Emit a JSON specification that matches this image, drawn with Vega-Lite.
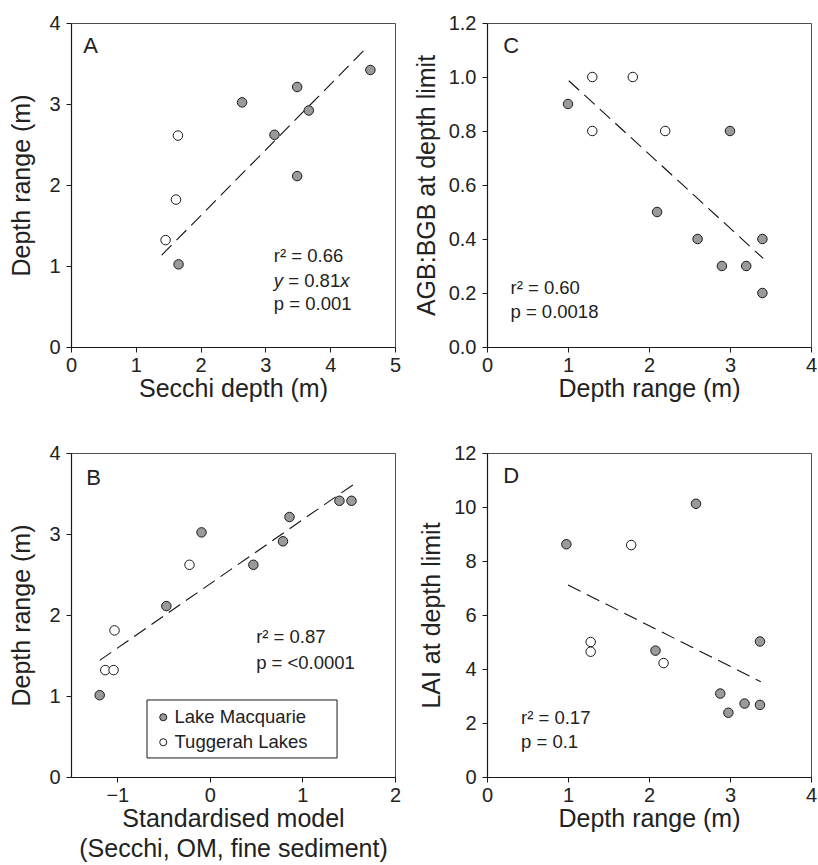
{
  "$schema": "https://vega.github.io/schema/vega-lite/v6.json",
  "background": "white",
  "padding": {"left": 9, "top": 12, "right": 5, "bottom": 5},
  "autosize": {"type": "pad"},
  "bounds": "flush",
  "columns": 2,
  "spacing": {"row": 106, "column": 92},
  "datasets": {
    "secchiSites": [
      {"lake": "Lake Macquarie", "secchi": 4.62, "depth_range": 3.42},
      {"lake": "Lake Macquarie", "secchi": 3.49, "depth_range": 3.21},
      {"lake": "Lake Macquarie", "secchi": 2.64, "depth_range": 3.02},
      {"lake": "Lake Macquarie", "secchi": 3.67, "depth_range": 2.92},
      {"lake": "Lake Macquarie", "secchi": 3.14, "depth_range": 2.62},
      {"lake": "Lake Macquarie", "secchi": 3.49, "depth_range": 2.11},
      {"lake": "Lake Macquarie", "secchi": 1.66, "depth_range": 1.02},
      {"lake": "Tuggerah Lakes", "secchi": 1.65, "depth_range": 2.61},
      {"lake": "Tuggerah Lakes", "secchi": 1.62, "depth_range": 1.82},
      {"lake": "Tuggerah Lakes", "secchi": 1.46, "depth_range": 1.32}
    ],
    "secchiFit": [
      {"secchi": 1.40, "depth_range": 1.134},
      {"secchi": 4.52, "depth_range": 3.661}
    ],
    "modelSites": [
      {"lake": "Lake Macquarie", "model_score": 1.40, "depth_range": 3.41},
      {"lake": "Lake Macquarie", "model_score": 1.53, "depth_range": 3.41},
      {"lake": "Lake Macquarie", "model_score": 0.86, "depth_range": 3.21},
      {"lake": "Lake Macquarie", "model_score": -0.09, "depth_range": 3.02},
      {"lake": "Lake Macquarie", "model_score": 0.79, "depth_range": 2.91},
      {"lake": "Lake Macquarie", "model_score": 0.47, "depth_range": 2.62},
      {"lake": "Lake Macquarie", "model_score": -0.47, "depth_range": 2.11},
      {"lake": "Lake Macquarie", "model_score": -1.19, "depth_range": 1.01},
      {"lake": "Tuggerah Lakes", "model_score": -0.22, "depth_range": 2.62},
      {"lake": "Tuggerah Lakes", "model_score": -1.03, "depth_range": 1.81},
      {"lake": "Tuggerah Lakes", "model_score": -1.13, "depth_range": 1.32},
      {"lake": "Tuggerah Lakes", "model_score": -1.04, "depth_range": 1.32}
    ],
    "modelFit": [
      {"model_score": -1.19, "depth_range": 1.44},
      {"model_score": 1.55, "depth_range": 3.61}
    ],
    "biomassSites": [
      {"lake": "Lake Macquarie", "depth_range": 1.0, "agb_bgb": 0.9},
      {"lake": "Lake Macquarie", "depth_range": 3.0, "agb_bgb": 0.8},
      {"lake": "Lake Macquarie", "depth_range": 2.1, "agb_bgb": 0.5},
      {"lake": "Lake Macquarie", "depth_range": 2.6, "agb_bgb": 0.4},
      {"lake": "Lake Macquarie", "depth_range": 2.9, "agb_bgb": 0.3},
      {"lake": "Lake Macquarie", "depth_range": 3.2, "agb_bgb": 0.3},
      {"lake": "Lake Macquarie", "depth_range": 3.4, "agb_bgb": 0.4},
      {"lake": "Lake Macquarie", "depth_range": 3.4, "agb_bgb": 0.2},
      {"lake": "Tuggerah Lakes", "depth_range": 1.3, "agb_bgb": 1.0},
      {"lake": "Tuggerah Lakes", "depth_range": 1.8, "agb_bgb": 1.0},
      {"lake": "Tuggerah Lakes", "depth_range": 1.3, "agb_bgb": 0.8},
      {"lake": "Tuggerah Lakes", "depth_range": 2.2, "agb_bgb": 0.8}
    ],
    "biomassFit": [
      {"depth_range": 1.01, "agb_bgb": 0.986},
      {"depth_range": 3.41, "agb_bgb": 0.328}
    ],
    "laiSites": [
      {"lake": "Lake Macquarie", "depth_range": 0.98, "lai": 8.62},
      {"lake": "Lake Macquarie", "depth_range": 2.58, "lai": 10.12},
      {"lake": "Lake Macquarie", "depth_range": 2.08, "lai": 4.68},
      {"lake": "Lake Macquarie", "depth_range": 3.37, "lai": 5.02},
      {"lake": "Lake Macquarie", "depth_range": 2.88, "lai": 3.09},
      {"lake": "Lake Macquarie", "depth_range": 2.98, "lai": 2.38},
      {"lake": "Lake Macquarie", "depth_range": 3.18, "lai": 2.72},
      {"lake": "Lake Macquarie", "depth_range": 3.37, "lai": 2.67},
      {"lake": "Tuggerah Lakes", "depth_range": 1.78, "lai": 8.59},
      {"lake": "Tuggerah Lakes", "depth_range": 1.28, "lai": 5.0},
      {"lake": "Tuggerah Lakes", "depth_range": 1.28, "lai": 4.64},
      {"lake": "Tuggerah Lakes", "depth_range": 2.18, "lai": 4.22}
    ],
    "laiFit": [
      {"depth_range": 1.0, "lai": 7.11},
      {"depth_range": 3.38, "lai": 3.53}
    ]
  },
  "concat": [
    {
      "width": 324,
      "height": 324,
      "layer": [
        {"data": {"name": "secchiFit"}, "mark": {"type": "line", "strokeDash": [14, 7], "color": "#111", "strokeWidth": 1.1},
         "encoding": {
           "x": {"field": "secchi", "type": "quantitative", "scale": {"domain": [0, 5], "nice": false},
                 "axis": {"values": [0, 1, 2, 3, 4, 5], "format": "d", "title": "Secchi depth (m)"}},
           "y": {"field": "depth_range", "type": "quantitative", "scale": {"domain": [0, 4], "nice": false},
                 "axis": {"values": [0, 1, 2, 3, 4], "format": "d", "title": "Depth range (m)", "titlePadding": 14}}}},
        {"data": {"name": "secchiSites"},
         "mark": {"type": "circle", "size": 90, "stroke": "#1a1a1a", "strokeWidth": 1, "opacity": 1},
         "encoding": {
           "x": {"field": "secchi", "type": "quantitative", "title": "Secchi depth (m)"},
           "y": {"field": "depth_range", "type": "quantitative", "title": "Depth range (m)"},
           "fill": {"field": "lake", "type": "nominal", "scale": {"domain": ["Lake Macquarie", "Tuggerah Lakes"], "range": ["#9a9a9a", "#ffffff"]}, "legend": null}}},
        {"data": {"values": [{"label": "A"}]}, "mark": {"type": "text", "align": "left", "baseline": "alphabetic", "fontSize": 22},
         "encoding": {"x": {"datum": 0.19, "type": "quantitative"}, "y": {"datum": 3.63, "type": "quantitative"}, "text": {"field": "label"}}},
        {"data": {"values": [{"label": "r² = 0.66"}]}, "mark": {"type": "text", "align": "left", "baseline": "alphabetic"},
         "encoding": {"x": {"datum": 3.13, "type": "quantitative"}, "y": {"datum": 1.05, "type": "quantitative"}, "text": {"field": "label"}}},
        {"data": {"values": [{"label": "y"}]}, "mark": {"type": "text", "align": "left", "baseline": "alphabetic", "fontStyle": "italic"},
         "encoding": {"x": {"datum": 3.13, "type": "quantitative"}, "y": {"datum": 0.74, "type": "quantitative"}, "text": {"field": "label"}}},
        {"data": {"values": [{"label": "= 0.81"}]}, "mark": {"type": "text", "align": "left", "baseline": "alphabetic", "dx": 14.4},
         "encoding": {"x": {"datum": 3.13, "type": "quantitative"}, "y": {"datum": 0.74, "type": "quantitative"}, "text": {"field": "label"}}},
        {"data": {"values": [{"label": "x"}]}, "mark": {"type": "text", "align": "left", "baseline": "alphabetic", "fontStyle": "italic", "dx": 66.5},
         "encoding": {"x": {"datum": 3.13, "type": "quantitative"}, "y": {"datum": 0.74, "type": "quantitative"}, "text": {"field": "label"}}},
        {"data": {"values": [{"label": "p = 0.001"}]}, "mark": {"type": "text", "align": "left", "baseline": "alphabetic"},
         "encoding": {"x": {"datum": 3.13, "type": "quantitative"}, "y": {"datum": 0.46, "type": "quantitative"}, "text": {"field": "label"}}}
      ]
    },
    {
      "width": 324,
      "height": 324,
      "layer": [
        {"data": {"name": "biomassFit"}, "mark": {"type": "line", "strokeDash": [14, 7], "color": "#111", "strokeWidth": 1.1},
         "encoding": {
           "x": {"field": "depth_range", "type": "quantitative", "scale": {"domain": [0, 4], "nice": false},
                 "axis": {"values": [0, 1, 2, 3, 4], "format": "d", "title": "Depth range (m)"}},
           "y": {"field": "agb_bgb", "type": "quantitative", "scale": {"domain": [0, 1.2], "nice": false},
                 "axis": {"values": [0, 0.2, 0.4, 0.6, 0.8, 1.0, 1.2], "format": ".1f", "title": "AGB:BGB at depth limit"}}}},
        {"data": {"name": "biomassSites"},
         "mark": {"type": "circle", "size": 90, "stroke": "#1a1a1a", "strokeWidth": 1, "opacity": 1},
         "encoding": {
           "x": {"field": "depth_range", "type": "quantitative", "title": "Depth range (m)"},
           "y": {"field": "agb_bgb", "type": "quantitative", "title": "AGB:BGB at depth limit"},
           "fill": {"field": "lake", "type": "nominal", "scale": {"domain": ["Lake Macquarie", "Tuggerah Lakes"], "range": ["#9a9a9a", "#ffffff"]}, "legend": null}}},
        {"data": {"values": [{"label": "C"}]}, "mark": {"type": "text", "align": "left", "baseline": "alphabetic", "fontSize": 22},
         "encoding": {"x": {"datum": 0.2, "type": "quantitative"}, "y": {"datum": 1.088, "type": "quantitative"}, "text": {"field": "label"}}},
        {"data": {"values": [{"label": "r² = 0.60"}]}, "mark": {"type": "text", "align": "left", "baseline": "alphabetic"},
         "encoding": {"x": {"datum": 0.29, "type": "quantitative"}, "y": {"datum": 0.196, "type": "quantitative"}, "text": {"field": "label"}}},
        {"data": {"values": [{"label": "p = 0.0018"}]}, "mark": {"type": "text", "align": "left", "baseline": "alphabetic"},
         "encoding": {"x": {"datum": 0.29, "type": "quantitative"}, "y": {"datum": 0.107, "type": "quantitative"}, "text": {"field": "label"}}}
      ]
    },
    {
      "width": 324,
      "height": 324,
      "layer": [
        {"data": {"name": "modelFit"}, "mark": {"type": "line", "strokeDash": [14, 7], "color": "#111", "strokeWidth": 1.1},
         "encoding": {
           "x": {"field": "model_score", "type": "quantitative", "scale": {"domain": [-1.5, 2], "nice": false},
                 "axis": {"values": [-1, 0, 1, 2], "format": "d", "title": ["Standardised model", "(Secchi, OM, fine sediment)"], "titleLineHeight": 30}},
           "y": {"field": "depth_range", "type": "quantitative", "scale": {"domain": [0, 4], "nice": false},
                 "axis": {"values": [0, 1, 2, 3, 4], "format": "d", "title": "Depth range (m)", "titlePadding": 14}}}},
        {"data": {"name": "modelSites"},
         "mark": {"type": "circle", "size": 90, "stroke": "#1a1a1a", "strokeWidth": 1, "opacity": 1},
         "encoding": {
           "x": {"field": "model_score", "type": "quantitative", "title": ["Standardised model", "(Secchi, OM, fine sediment)"]},
           "y": {"field": "depth_range", "type": "quantitative", "title": "Depth range (m)"},
           "fill": {"field": "lake", "type": "nominal", "scale": {"domain": ["Lake Macquarie", "Tuggerah Lakes"], "range": ["#9a9a9a", "#ffffff"]},
             "legend": {"orient": "none", "legendX": 76, "legendY": 247, "title": null, "strokeColor": null, "fillColor": null,
                        "padding": 8, "labelFontSize": 18.5, "labelColor": "#222", "labelFont": "Liberation Sans", "symbolType": "circle", "symbolSize": 50,
                        "symbolStrokeColor": "#1a1a1a", "symbolStrokeWidth": 1, "rowPadding": 6, "labelOffset": 2, "symbolOffset": -1}}}},
        {"data": {"values": [{"label": "legend frame"}]}, "mark": {"type": "rect", "fill": "white", "stroke": "#1a1a1a", "strokeWidth": 1},
         "encoding": {"x": {"datum": -0.679, "type": "quantitative"}, "x2": {"datum": 1.374}, "y": {"datum": 0.951, "type": "quantitative"}, "y2": {"datum": 0.235}}},
        {"data": {"values": [{"label": "B"}]}, "mark": {"type": "text", "align": "left", "baseline": "alphabetic", "fontSize": 22},
         "encoding": {"x": {"datum": -1.335, "type": "quantitative"}, "y": {"datum": 3.6, "type": "quantitative"}, "text": {"field": "label"}}},
        {"data": {"values": [{"label": "r² = 0.87"}]}, "mark": {"type": "text", "align": "left", "baseline": "alphabetic"},
         "encoding": {"x": {"datum": 0.5, "type": "quantitative"}, "y": {"datum": 1.65, "type": "quantitative"}, "text": {"field": "label"}}},
        {"data": {"values": [{"label": "p = <0.0001"}]}, "mark": {"type": "text", "align": "left", "baseline": "alphabetic"},
         "encoding": {"x": {"datum": 0.5, "type": "quantitative"}, "y": {"datum": 1.33, "type": "quantitative"}, "text": {"field": "label"}}}
      ]
    },
    {
      "width": 324,
      "height": 324,
      "layer": [
        {"data": {"name": "laiFit"}, "mark": {"type": "line", "strokeDash": [14, 7], "color": "#111", "strokeWidth": 1.1},
         "encoding": {
           "x": {"field": "depth_range", "type": "quantitative", "scale": {"domain": [0, 4], "nice": false},
                 "axis": {"values": [0, 1, 2, 3, 4], "format": "d", "title": "Depth range (m)"}},
           "y": {"field": "lai", "type": "quantitative", "scale": {"domain": [0, 12], "nice": false},
                 "axis": {"values": [0, 2, 4, 6, 8, 10, 12], "format": "d", "title": "LAI at depth limit"}}}},
        {"data": {"name": "laiSites"},
         "mark": {"type": "circle", "size": 90, "stroke": "#1a1a1a", "strokeWidth": 1, "opacity": 1},
         "encoding": {
           "x": {"field": "depth_range", "type": "quantitative", "title": "Depth range (m)"},
           "y": {"field": "lai", "type": "quantitative", "title": "LAI at depth limit"},
           "fill": {"field": "lake", "type": "nominal", "scale": {"domain": ["Lake Macquarie", "Tuggerah Lakes"], "range": ["#9a9a9a", "#ffffff"]}, "legend": null}}},
        {"data": {"values": [{"label": "D"}]}, "mark": {"type": "text", "align": "left", "baseline": "alphabetic", "fontSize": 22},
         "encoding": {"x": {"datum": 0.2, "type": "quantitative"}, "y": {"datum": 10.9, "type": "quantitative"}, "text": {"field": "label"}}},
        {"data": {"values": [{"label": "r² = 0.17"}]}, "mark": {"type": "text", "align": "left", "baseline": "alphabetic"},
         "encoding": {"x": {"datum": 0.42, "type": "quantitative"}, "y": {"datum": 1.96, "type": "quantitative"}, "text": {"field": "label"}}},
        {"data": {"values": [{"label": "p = 0.1"}]}, "mark": {"type": "text", "align": "left", "baseline": "alphabetic"},
         "encoding": {"x": {"datum": 0.42, "type": "quantitative"}, "y": {"datum": 1.06, "type": "quantitative"}, "text": {"field": "label"}}}
      ]
    }
  ],
  "resolve": {"scale": {"fill": "independent"}, "legend": {"fill": "independent"}},
  "config": {
    "font": "Liberation Sans",
    "view": {"stroke": "#4d4d4d", "strokeWidth": 1},
    "axis": {
      "grid": false,
      "domainColor": "#1a1a1a",
      "domainWidth": 1.2,
      "tickColor": "#1a1a1a",
      "tickSize": 5,
      "tickWidth": 1,
      "labelFont": "Liberation Sans",
      "labelFontSize": 20,
      "labelColor": "#222",
      "labelFlush": false,
      "labelOverlap": false,
      "titleFont": "Liberation Sans",
      "titleFontSize": 25,
      "titleFontWeight": "normal",
      "titleColor": "#222"
    },
    "axisY": {"titlePadding": 9, "labelPadding": 6},
    "axisX": {"titlePadding": 1, "labelPadding": 3},
    "text": {"font": "Liberation Sans", "fontSize": 18.5, "color": "#222"}
  }
}
